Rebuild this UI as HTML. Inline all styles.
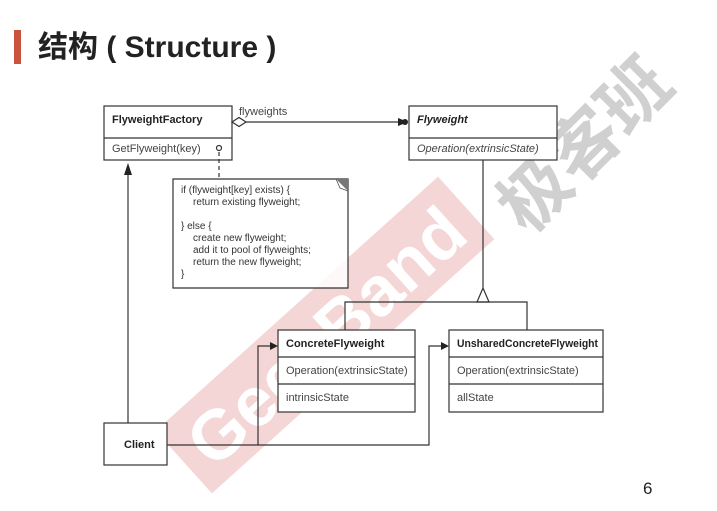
<!DOCTYPE html>
<html><head><meta charset="utf-8"><style>
html,body{margin:0;padding:0;background:#fff;}
body{width:717px;height:506px;position:relative;overflow:hidden;font-family:"Liberation Sans",Arial,sans-serif;}
</style></head><body>
<svg width="717" height="506" viewBox="0 0 717 506" xmlns="http://www.w3.org/2000/svg" font-family="Liberation Sans, Arial, sans-serif">
<rect x="14" y="30" width="7" height="34" fill="#c9533f"/>
<text x="38" y="57" font-size="30" font-weight="bold" fill="#222" font-family="Liberation Sans, Noto Sans CJK SC, sans-serif">结构 ( Structure )</text>
<!-- watermark -->
<g transform="translate(325,335) rotate(-42)">
<rect x="-190" y="-42" width="380" height="84" fill="#f4d6d6"/>
<text x="0" y="26" font-size="70" font-weight="bold" fill="#fff" text-anchor="middle">GeekBand</text>
</g>
<g transform="translate(585,145) rotate(-45)">
<text x="0" y="24" font-size="70" font-weight="bold" fill="#d0d0d0" text-anchor="middle" font-family="Noto Sans CJK SC, sans-serif">极客班</text>
</g>
<g stroke="#333" stroke-width="1.2" fill="none">
<rect x="104" y="106" width="128" height="54" fill="#fff"/>
<line x1="104" y1="138" x2="232" y2="138"/>
<rect x="409" y="106" width="148" height="54" fill="#fff"/>
<line x1="409" y1="138" x2="557" y2="138"/>
<rect x="278" y="330" width="137" height="82" fill="#fff"/>
<line x1="278" y1="357" x2="415" y2="357"/><line x1="278" y1="384" x2="415" y2="384"/>
<rect x="449" y="330" width="154" height="82" fill="#fff"/>
<line x1="449" y1="357" x2="603" y2="357"/><line x1="449" y1="384" x2="603" y2="384"/>
<rect x="104" y="423" width="63" height="42" fill="#fff"/>
<polygon points="173,179 348,179 348,288 173,288" fill="#fff" fill-opacity="0.85"/>
<line x1="246" y1="122" x2="398" y2="122"/>
<polygon points="232,122 239,117.5 246,122 239,126.5" fill="#fff"/>
<line x1="219" y1="152" x2="219" y2="179" stroke-dasharray="4,3"/>
<circle cx="219" cy="148" r="2.5" fill="#fff"/>
<line x1="128" y1="175" x2="128" y2="423"/>
<line x1="483" y1="160" x2="483" y2="288"/>
<polygon points="483,288 477,302 489,302" fill="#fff"/>
<polyline points="345,330 345,302 527,302 527,330"/>
<polyline points="167,445 429,445 429,346 441,346"/>
<polyline points="258,445 258,346 270,346"/>
</g>
<polygon points="398,118 408,122 398,126" fill="#222"/>
<circle cx="405" cy="122" r="3" fill="#222"/>
<polygon points="128,163 124,175 132,175" fill="#222"/>
<polygon points="270,342 278,346 270,350" fill="#222"/>
<polygon points="441,342 449,346 441,350" fill="#222"/>
<polygon points="336,179 348,179 348,191" fill="#777"/>
<polyline points="336,179 340,188 348,191" fill="none" stroke="#555" stroke-width="0.8"/>
<g font-size="11" fill="#222">
<text x="112" y="123" font-weight="bold">FlyweightFactory</text>
<text x="112" y="152" fill="#444">GetFlyweight(key)</text>
<text x="239" y="115" fill="#444">flyweights</text>
<text x="417" y="123" font-weight="bold" font-style="italic">Flyweight</text>
<text x="417" y="152" font-style="italic" fill="#444">Operation(extrinsicState)</text>
<text x="286" y="347" font-weight="bold">ConcreteFlyweight</text>
<text x="286" y="374" fill="#444">Operation(extrinsicState)</text>
<text x="286" y="401" fill="#444">intrinsicState</text>
<text x="457" y="347" font-weight="bold" textLength="141" lengthAdjust="spacingAndGlyphs">UnsharedConcreteFlyweight</text>
<text x="457" y="374" fill="#444">Operation(extrinsicState)</text>
<text x="457" y="401" fill="#444">allState</text>
<text x="124" y="448" font-weight="bold">Client</text>
</g>
<g font-size="10" fill="#333">
<text x="181" y="193">if (flyweight[key] exists) {</text>
<text x="193" y="205">return existing flyweight;</text>
<text x="181" y="229">} else {</text>
<text x="193" y="241">create new flyweight;</text>
<text x="193" y="253">add it to pool of flyweights;</text>
<text x="193" y="265">return the new flyweight;</text>
<text x="181" y="277">}</text>
</g>
<text x="643" y="494" font-size="17" fill="#222">6</text>
</svg>
</body></html>
